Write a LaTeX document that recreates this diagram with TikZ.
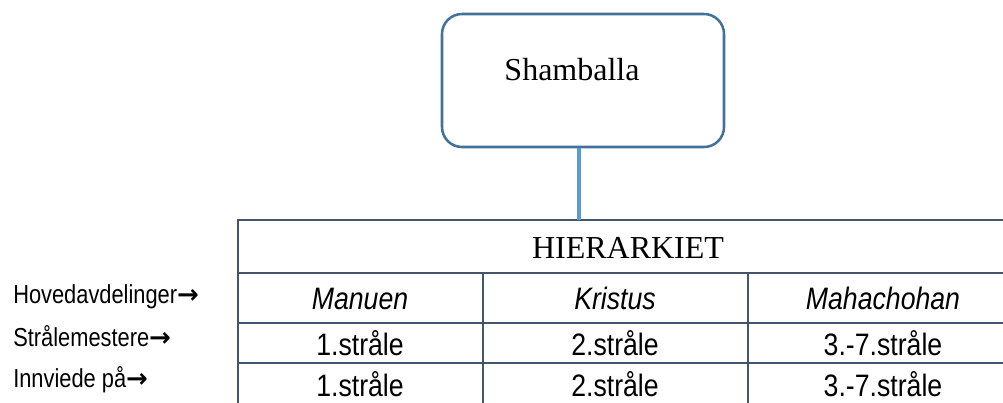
\documentclass[tikz,border=0pt]{standalone}
\usepackage{fontspec}
\setmainfont{Liberation Serif}
\newfontfamily\narrowsans{Liberation Sans}[FakeStretch=0.86]
\newfontfamily\tagsans{Liberation Sans}[FakeStretch=0.84]
\newfontfamily\arrowfont{DejaVu Sans}
\newcommand\cellfont{\narrowsans\fontsize{23.25}{27}\selectfont}
\newcommand\tagfont{\tagsans\fontsize{19.5}{22}\selectfont}
\newcommand\tagarrow{{\arrowfont\bfseries →}}
\definecolor{tablegray}{HTML}{44546A}
\definecolor{boxblue}{HTML}{41719C}
\definecolor{linkblue}{HTML}{5B9BD5}

\begin{document}
\begin{tikzpicture}[x=0.75pt, y=-0.75pt, every node/.style={inner sep=0pt, anchor=base},
    cell/.style={font=\cellfont},
    rowtag/.style={anchor=base west, font=\tagfont},
    grid/.style={draw=tablegray, line width=1.5pt}]
    \clip (0,0) rectangle (1003,403);

    \node[draw=boxblue, line width=1.9pt, rounded corners=15pt, minimum width=211.5pt, minimum height=99.75pt, anchor=center] (sham) at (583,80.5) {};
    \node[font=\fontsize{24}{28}\selectfont] (shamtxt) at (572,81) {Shamballa};

    \draw[grid] (238,220) rectangle (1018,430);
    \foreach \y in {273,323,363}
        \draw[grid] (238,\y) -- (1018,\y);
    \draw[grid] (483,273) -- (483,430);
    \draw[grid] (748,273) -- (748,430);

    \coordinate (hiertop) at (579,220);
    \draw[linkblue, line width=2.6pt] ([xshift=-3pt]sham.south) -- (hiertop);

    \node[font=\fontsize{24}{28}\selectfont] (hier) at (628,258) {HIERARKIET};

    \node[cell] (manuen) at (360,309) {\itshape Manuen};
    \node[cell] (kristus) at (615,309) {\itshape Kristus};
    \node[cell] (maha) at (883,309) {\itshape Mahachohan};

    \node[cell] (mester1) at (360,355) {1.stråle};
    \node[cell] (mester2) at (615,355) {2.stråle};
    \node[cell] (mester3) at (883,355) {3.-7.stråle};

    \node[cell] (innvied1) at (360,396) {1.stråle};
    \node[cell] (innvied2) at (615,396) {2.stråle};
    \node[cell] (innvied3) at (883,396) {3.-7.stråle};

    \node[rowtag] (hoved) at (13,303) {Hovedavdelinger\tagarrow};
    \node[rowtag] (straale) at (13,346) {Strålemestere\tagarrow};
    \node[rowtag] (innviede) at (13,387) {Innviede på\tagarrow};
\end{tikzpicture}
\end{document}
